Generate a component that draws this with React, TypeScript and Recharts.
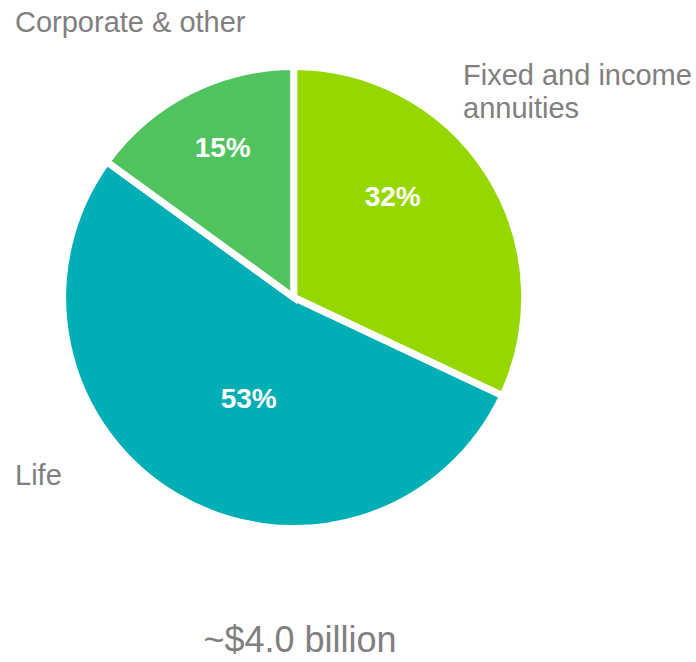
import React from 'react';
import { PieChart, Pie, Cell } from 'recharts';

const categories = ['Fixed and income annuities', 'Life', 'Corporate & other'];
const shares = [32, 53, 15];
const percentLabels = ['32%', '53%', '15%'];
const sliceColors = ['#97D700', '#00AEB6', '#50C35F'];
const titleText = '~$4.0 billion';

// label lines for category names (text only)
const categoryLines = [['Fixed and income', 'annuities'], ['Life'], ['Corporate & other']];

const data = categories.map((c, i) => ({ name: c, value: shares[i] }));

// offsets of percent labels from the pie centre
const pctOffsets = [
  [99, -102],
  [-45, 100],
  [-71, -151],
];
// category label anchors (left x, first baseline)
const catAnchors = [
  [463, 85],
  [15, 485],
  [15, 32],
];

const FONT = '"Liberation Sans", Arial, Helvetica, sans-serif';

const renderLabel = (props: any) => {
  const { cx, cy, index } = props;
  const [dx, dy] = pctOffsets[index];
  const [ax, ay] = catAnchors[index];
  return (
    <g key={`lbl-${index}`}>
      <text
        x={cx + dx}
        y={cy + dy + 10}
        textAnchor="middle"
        fill="#FFFFFF"
        fontSize={28}
        fontWeight="bold"
        fontFamily={FONT}
      >
        {percentLabels[index]}
      </text>
      <text x={ax} y={ay} fill="#808080" fontSize={29} fontFamily={FONT} textAnchor="start">
        {categoryLines[index].map((line, j) => (
          <tspan key={j} x={ax} dy={j === 0 ? 0 : 33}>
            {line}
          </tspan>
        ))}
      </text>
    </g>
  );
};

export default function App() {
  return (
    <div style={{ position: 'absolute', left: 0, top: 0, width: 696, height: 662, background: '#fff' }}>
      <PieChart width={696} height={662} margin={{ top: 0, right: 0, bottom: 0, left: 0 }}>
        <Pie
          data={data}
          dataKey="value"
          nameKey="name"
          cx={293.7}
          cy={297.5}
          outerRadius={231}
          startAngle={90}
          endAngle={-270}
          stroke="#FFFFFF"
          strokeWidth={7}
          label={renderLabel}
          labelLine={false}
          isAnimationActive={false}
        >
          {data.map((d, i) => (
            <Cell key={d.name} fill={sliceColors[i]} />
          ))}
        </Pie>
      </PieChart>
      <div
        style={{
          position: 'absolute',
          left: 0,
          width: 600,
          top: 620,
          textAlign: 'center',
          fontFamily: FONT,
          fontSize: 36,
          lineHeight: '40px',
          color: '#808080',
        }}
      >
        {titleText}
      </div>
    </div>
  );
}
